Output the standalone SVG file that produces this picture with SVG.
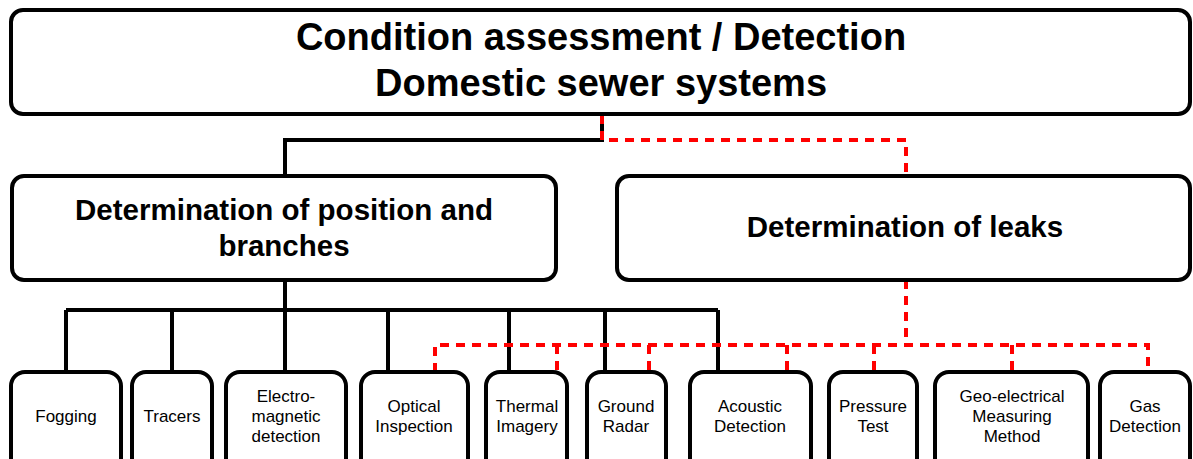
<svg xmlns="http://www.w3.org/2000/svg" width="1193" height="459" viewBox="0 0 1193 459">
<style>
.box{fill:#fff;stroke:#000;stroke-width:4}
.t1{font-family:"Liberation Sans",Arial,sans-serif;font-weight:bold;font-size:38px;text-anchor:middle;fill:#000}
.t2{font-family:"Liberation Sans",Arial,sans-serif;font-weight:bold;font-size:29.5px;text-anchor:middle;fill:#000}
.t3{font-family:"Liberation Sans",Arial,sans-serif;font-size:17px;text-anchor:middle;fill:#000}
.blk{fill:none;stroke:#000;stroke-width:4}
.red{fill:none;stroke:#ff0000;stroke-width:4;stroke-dasharray:9 7}
</style>
<g id="connectors">
<path class="blk" d="M602,115 V140 H285 V176"/>
<path class="blk" d="M285,280 V310 M66,310 H718 M66,310 V372 M172,310 V372 M285,310 V372 M388,310 V372 M509,310 V372 M605,310 V372 M718,310 V372"/>
<path class="red" d="M602,115 V140 H906 V175"/>
<path class="red" d="M906,280 V345"/>
<path class="red" d="M435,372 V345 H1148 V372"/>
<path class="red" d="M557,345 V372 M649,345 V372 M787,345 V372 M874,345 V372 M1012,345 V372"/>
</g>
<g id="root">
<rect class="box" x="11" y="10" width="1179" height="104" rx="12"/>
<text class="t1" x="601" y="50">Condition assessment / Detection</text>
<text class="t1" x="601" y="96">Domestic sewer systems</text>
</g>
<g id="position">
<rect class="box" x="12" y="176" width="544" height="104" rx="12"/>
<text class="t2" x="284" y="220">Determination of position and</text>
<text class="t2" x="284" y="256">branches</text>
</g>
<g id="leaks">
<rect class="box" x="617" y="176" width="573" height="104" rx="12"/>
<text class="t2" x="905" y="237">Determination of leaks</text>
</g>
<g id="fogging">
<rect class="box" x="11" y="372" width="110" height="110" rx="14"/>
<text class="t3" x="66" y="422">Fogging</text>
</g>
<g id="tracers">
<rect class="box" x="132" y="372" width="80" height="110" rx="14"/>
<text class="t3" x="172" y="422">Tracers</text>
</g>
<g id="electromagnetic">
<rect class="box" x="226" y="372" width="120" height="110" rx="14"/>
<text class="t3" x="286" y="402">Electro-</text>
<text class="t3" x="286" y="422">magnetic</text>
<text class="t3" x="286" y="442">detection</text>
</g>
<g id="optical">
<rect class="box" x="361" y="372" width="107" height="110" rx="14"/>
<text class="t3" x="414" y="412">Optical</text>
<text class="t3" x="414" y="432">Inspection</text>
</g>
<g id="thermal">
<rect class="box" x="486" y="372" width="81" height="110" rx="14"/>
<text class="t3" x="527" y="412">Thermal</text>
<text class="t3" x="527" y="432">Imagery</text>
</g>
<g id="radar">
<rect class="box" x="587" y="372" width="79" height="110" rx="14"/>
<text class="t3" x="626" y="412">Ground</text>
<text class="t3" x="626" y="432">Radar</text>
</g>
<g id="acoustic">
<rect class="box" x="690" y="372" width="121" height="110" rx="14"/>
<text class="t3" x="750" y="412">Acoustic</text>
<text class="t3" x="750" y="432">Detection</text>
</g>
<g id="pressure">
<rect class="box" x="829" y="372" width="88" height="110" rx="14"/>
<text class="t3" x="873" y="412">Pressure</text>
<text class="t3" x="873" y="432">Test</text>
</g>
<g id="geoelectrical">
<rect class="box" x="935" y="372" width="153" height="110" rx="14"/>
<text class="t3" x="1012" y="402">Geo-electrical</text>
<text class="t3" x="1012" y="422">Measuring</text>
<text class="t3" x="1012" y="442">Method</text>
</g>
<g id="gas">
<rect class="box" x="1100" y="372" width="90" height="110" rx="14"/>
<text class="t3" x="1145" y="412">Gas</text>
<text class="t3" x="1145" y="432">Detection</text>
</g>
</svg>
